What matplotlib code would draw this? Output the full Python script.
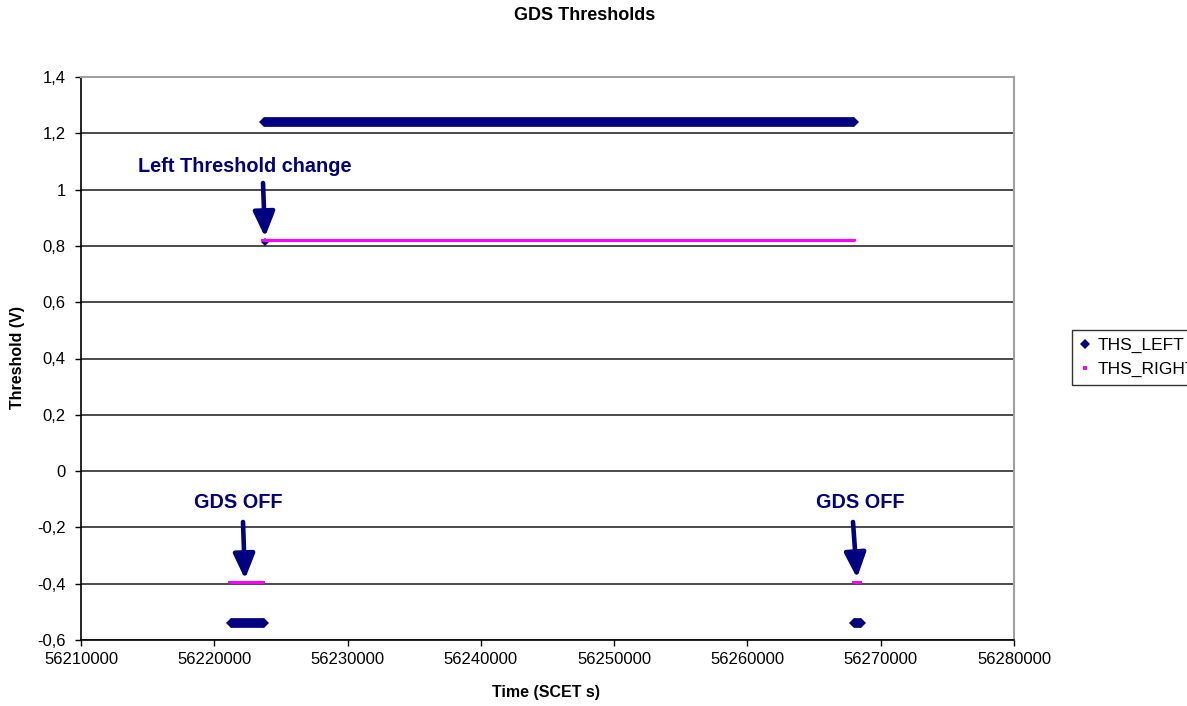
import matplotlib
matplotlib.use("Agg")
import matplotlib.pyplot as plt
from matplotlib.lines import Line2D

# ---- data ----
x_ticks = [56210000, 56220000, 56230000, 56240000, 56250000, 56260000, 56270000, 56280000]
x_tick_labels = ["56210000", "56220000", "56230000", "56240000", "56250000", "56260000", "56270000", "56280000"]
y_ticks = [-0.6, -0.4, -0.2, 0.0, 0.2, 0.4, 0.6, 0.8, 1.0, 1.2, 1.4]
y_tick_labels = ["-0,6", "-0,4", "-0,2", "0", "0,2", "0,4", "0,6", "0,8", "1", "1,2", "1,4"]

# THS_LEFT: runs of constant threshold (start time, end time, value)
left_start = [56221250, 56223750, 56268030]
left_end = [56223730, 56268000, 56268540]
left_value = [-0.54, 1.24, -0.54]
# isolated THS_LEFT sample at the threshold change
left_change_time = [56223800]
left_change_value = [0.815]

# THS_RIGHT runs
right_start = [56221130, 56223600, 56267950]
right_end = [56223730, 56268050, 56268550]
right_value = [-0.395, 0.82, -0.395]

NAVY = "#000080"
PINK = "#FF00FF"
FONT = "Liberation Sans"

plt.rcParams["font.family"] = [FONT, "DejaVu Sans"]

W, H = 1187, 706
fig = plt.figure(figsize=(W / 100, H / 100), dpi=100)
L, R, T, B = 81, 1014, 77, 640
ax = fig.add_axes([L / W, 1 - B / H, (R - L) / W, (B - T) / H])

# THS_LEFT series
for s, e, v in zip(left_start, left_end, left_value):
    ax.plot([s, e], [v, v], color=NAVY, lw=7, solid_capstyle="butt",
            marker="D", ms=5, mew=0, zorder=3)
ax.plot(left_change_time, left_change_value, linestyle="none", color=NAVY,
        marker="D", ms=4, mew=0, zorder=3)

# THS_RIGHT series
for s, e, v in zip(right_start, right_end, right_value):
    ax.plot([s, e], [v, v], color=PINK, lw=2.2, solid_capstyle="butt",
            marker="s", ms=2, mew=0, zorder=4)

ax.set_xlim(x_ticks[0], x_ticks[-1])
ax.set_ylim(y_ticks[0], y_ticks[-1])
ax.set_xticks(x_ticks)
ax.set_xticklabels(x_tick_labels)
ax.set_yticks(y_ticks)
ax.set_yticklabels(y_tick_labels)
ax.tick_params(axis="both", direction="out", length=4, width=1, color="black",
               labelsize=12, labelcolor="black")
ax.tick_params(axis="x", pad=5)
ax.tick_params(axis="y", pad=7)

ax.grid(axis="y", color="#3c3c3c", lw=1.3, zorder=1)
ax.set_axisbelow(True)
for side in ("left", "bottom"):
    ax.spines[side].set_color("black")
    ax.spines[side].set_linewidth(1.2)
for side in ("top", "right"):
    ax.spines[side].set_color("#a0a0a0")
    ax.spines[side].set_linewidth(1.5)

# titles / labels
fig.text(585 / W, 1 - 16 / H, "GDS Thresholds", ha="center", va="center",
         fontsize=13, fontweight="bold")
fig.text(546 / W, 1 - 692 / H, "Time (SCET s)", ha="center", va="center",
         fontsize=11.5, fontweight="bold")
fig.text(18 / W, 1 - 358 / H, "Threshold (V)", ha="center", va="center",
         rotation=90, fontsize=11.5, fontweight="bold")

# annotations
def px2data(x, y):
    xd = x_ticks[0] + (x - L) / (R - L) * (x_ticks[-1] - x_ticks[0])
    yd = y_ticks[-1] - (y - T) / (B - T) * (y_ticks[-1] - y_ticks[0])
    return xd, yd

def note(text, tpos, a0, a1):
    ax.text(*px2data(*tpos), text, ha="center", va="center", fontsize=14.3,
            fontweight="bold", color=NAVY, zorder=6)
    ax.annotate("", xy=px2data(*a1), xytext=px2data(*a0),
                arrowprops=dict(arrowstyle="-|>,head_width=0.65,head_length=1.5",
                                mutation_scale=10, color=NAVY, lw=3.3,
                                shrinkA=0, shrinkB=0),
                zorder=6)

note("Left Threshold change", (245, 166), (263, 183), (265, 237))
note("GDS OFF", (238, 503), (243, 522), (245, 579))
note("GDS OFF", (860, 503), (853, 522), (857, 578))

# legend
handles = [
    Line2D([], [], linestyle="none", marker="D", color=NAVY, ms=5, mew=0),
    Line2D([], [], linestyle="none", marker="s", color=PINK, ms=2.5, mew=0),
]
leg = fig.legend(handles, ["THS_LEFT", "THS_RIGHT"], loc="upper left",
                 bbox_to_anchor=(1072 / W, 1 - 330 / H), frameon=True,
                 fancybox=False, shadow=False, fontsize=12.5,
                 handlelength=0.6, handletextpad=0.4, borderpad=0.45,
                 labelspacing=0.5, borderaxespad=0)
leg.get_frame().set_edgecolor("black")
leg.get_frame().set_linewidth(1.0)

fig.savefig("out.png", dpi=100)
